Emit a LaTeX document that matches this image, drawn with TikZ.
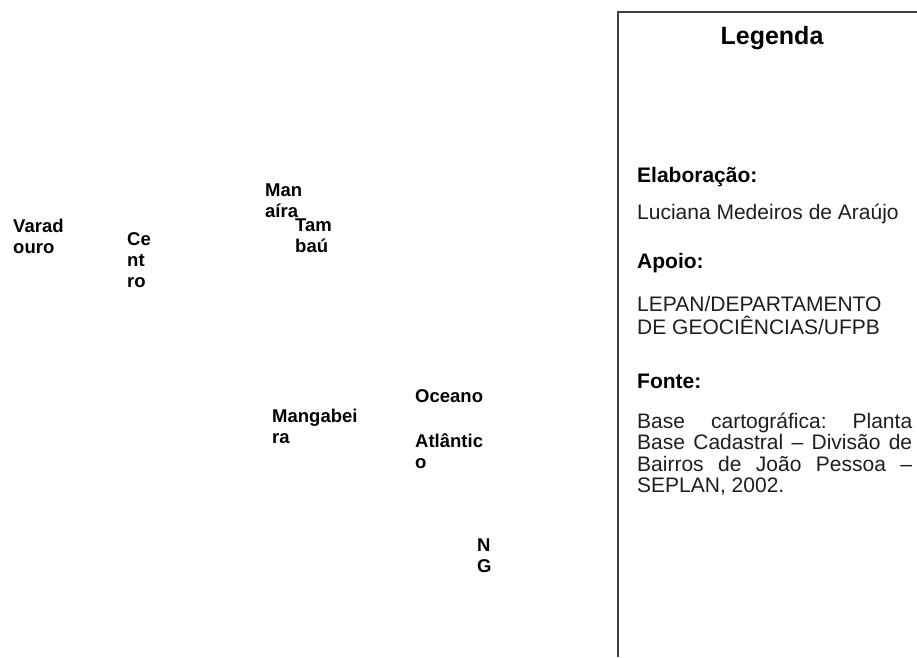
\documentclass[tikz,border=0pt]{standalone}
\usepackage{fontspec}
\setmainfont{Liberation Sans}
\usetikzlibrary{positioning}
\definecolor{framegrey}{RGB}{64,64,64}
\definecolor{legendtext}{RGB}{30,30,30}
\frenchspacing

\begin{document}
\begin{tikzpicture}[
      x=1pt,y=-1pt,
      bairro/.style={anchor=base west,align=left,inner sep=0pt,
                  font=\fontsize{18.5}{21}\selectfont\bfseries},
      legtitle/.style={anchor=base,inner sep=0pt,
                  font=\fontsize{25}{30}\selectfont\bfseries},
      leghead/.style={anchor=base west,inner sep=0pt,
                  font=\fontsize{21}{23}\selectfont\bfseries},
      legbody/.style={anchor=base west,inner sep=0pt,align=left,
                  text=legendtext,font=\fontsize{21}{23}\selectfont},
      legframe/.style={draw=framegrey,line width=2.2pt}]
    \useasboundingbox (0,0) rectangle (917,657);
    % nomes no mapa (ancorados na ultima linha)
    \node[bairro] (varadouro) at (13,253) {Varad\\ouro};
    \node[bairro] (centro) at (127,287) {Ce\\nt\\ro};
    \node[bairro] (manaira) at (265,217) {Man\\aíra};
    \node[bairro] (tambau) at (295,252) {Tam\\baú};
    \node[bairro] (mangabeira) at (272,443) {Mangabei\\ra};
    \node[bairro] (oceano) at (415,468) {Oceano\\[24pt]Atlântic\\o};
    \node[bairro] (norte) at (477,572) {N\\G};
    % legenda
    \draw[legframe] (618,657) -- (618,12) -- (917,12);
    \node[legtitle] (legenda) at (772,44) {Legenda};
    \node[leghead] (elab) at (637,182) {Elaboração:};
    \node[legbody] (autora) at (637,219) {Luciana Medeiros de Araújo};
    \node[leghead] (apoio) at (637,268) {Apoio:};
    \node[legbody] (lepan) at (637,334) {LEPAN/DEPARTAMENTO\\DE GEOCIÊNCIAS/UFPB};
    \node[leghead] (fonte) at (637,388) {Fonte:};
    \node[legbody,align=justify,text width=275pt,
          font=\fontsize{21}{21.5}\selectfont] (base) at (637,428)
        {Base cartográfica: Planta\linebreak Base Cadastral – Divisão de\linebreak
         Bairros de João Pessoa –\linebreak SEPLAN, 2002.};
\end{tikzpicture}
\end{document}
